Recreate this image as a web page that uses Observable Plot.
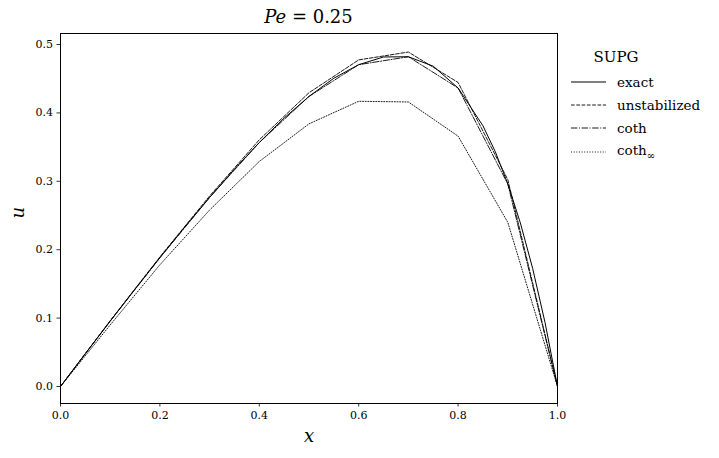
<!DOCTYPE html>
<html>
<head>
<meta charset="utf-8">
<script src="https://cdn.jsdelivr.net/npm/d3@7"></script>
<script src="https://cdn.jsdelivr.net/npm/@observablehq/plot@0.6"></script>
<style>
  html, body { margin: 0; padding: 0; background: #fff; color: #000; }
  #wrap { position: relative; width: 719px; height: 458px; font-family: "DejaVu Serif", serif; }
  #title { position: absolute; left: 0; width: 617px; top: 6px; text-align: center; font-size: 18px; font-family: "DejaVu Serif", serif; }
  #title i { font-style: italic; }
  #legend { position: absolute; left: 566px; top: 48px; font-family: "DejaVu Serif", serif; font-size: 13.5px; }
  #legend .lt { text-align: center; width: 100px; font-size: 15px; margin-bottom: 4px; }
  #legend .row { display: flex; align-items: center; height: 23.3px; }
  #legend svg { margin-left: 5px; margin-right: 11px; }
</style>
</head>
<body>
<div id="wrap">
  <div id="chart"></div>
  <div id="title"><i>Pe</i> = 0.25</div>
  <div id="legend"></div>
</div>
<script>
// Data
const xFine = [0, 0.05, 0.1, 0.15, 0.2, 0.25, 0.3, 0.35, 0.4, 0.45, 0.5, 0.55, 0.6, 0.65, 0.7, 0.75, 0.8, 0.85, 0.875, 0.9, 0.925, 0.95, 0.975, 1.0];
const uExact = [0, 0.0481, 0.0956, 0.1424, 0.1883, 0.2331, 0.2764, 0.3177, 0.3567, 0.3924, 0.4241, 0.4507, 0.4705, 0.4818, 0.4821, 0.4683, 0.4364, 0.3812, 0.343, 0.2961, 0.2398, 0.1727, 0.0933, 0];

const xNodes = [0, 0.1, 0.2, 0.3, 0.4, 0.5, 0.6, 0.7, 0.8, 0.9, 1.0];
const uUnstab = [0, 0.0962, 0.1895, 0.2785, 0.3607, 0.4295, 0.4775, 0.489, 0.4445, 0.3025, 0];
const uCoth = [0, 0.0956, 0.1883, 0.2764, 0.3567, 0.4241, 0.4705, 0.4821, 0.4364, 0.2961, 0];
const uCothInf = [0, 0.090, 0.178, 0.258, 0.329, 0.384, 0.417, 0.416, 0.366, 0.240, 0];

const xTicks = [0, 0.2, 0.4, 0.6, 0.8, 1.0];
const yTicks = [0, 0.1, 0.2, 0.3, 0.4, 0.5];

const seriesNames = ["exact", "unstabilized", "coth", "coth∞"];
const dashes = [null, "3.7,1.6", "6.4,1.6,1,1.6", "1,1.65"];

const exactData = xFine.map((x, i) => ({x, u: uExact[i]}));
const mk = arr => xNodes.map((x, i) => ({x, u: arr[i]}));

const serif = '"DejaVu Serif", serif';

const chart = Plot.plot({
  width: 719,
  height: 458,
  marginLeft: 60,
  marginRight: 162,
  marginTop: 33,
  marginBottom: 55,
  style: { fontFamily: serif, fontSize: "11px", color: "#000", background: "#fff", overflow: "visible" },
  x: { domain: [0, 1] },
  y: { domain: [-0.02485, 0.5161] },
  marks: [
    Plot.axisX({ ticks: xTicks, tickFormat: d3.format(".1f"), tickSize: 3.5, tickPadding: 4, label: null, stroke: "#000", strokeWidth: 0.8 }),
    Plot.axisY({ ticks: yTicks, tickFormat: d3.format(".1f"), tickSize: 3.5, tickPadding: 4, label: null, stroke: "#000", strokeWidth: 0.8 }),
    Plot.line(exactData, { x: "x", y: "u", stroke: "#000", strokeWidth: 1 }),
    Plot.line(mk(uUnstab), { x: "x", y: "u", stroke: "#000", strokeWidth: 0.9, strokeDasharray: dashes[1] }),
    Plot.line(mk(uCoth), { x: "x", y: "u", stroke: "#000", strokeWidth: 0.9, strokeDasharray: dashes[2] }),
    Plot.line(mk(uCothInf), { x: "x", y: "u", stroke: "#000", strokeWidth: 0.9, strokeDasharray: dashes[3] }),
    Plot.frame({ stroke: "#000", strokeWidth: 1 }),
    Plot.text(["x"], { frameAnchor: "bottom", dy: 38, text: d => d, fontSize: 18, fontStyle: "italic", fontFamily: serif }),
    Plot.text(["u"], { frameAnchor: "left", dx: -42, rotate: -90, text: d => d, fontSize: 18, fontStyle: "italic", fontFamily: serif })
  ]
});
document.getElementById("chart").appendChild(chart);

// Legend
const legend = document.getElementById("legend");
const lt = document.createElement("div");
lt.className = "lt";
lt.textContent = "SUPG";
legend.appendChild(lt);
seriesNames.forEach((name, i) => {
  const row = document.createElement("div");
  row.className = "row";
  const s = d3.create("svg").attr("width", 35).attr("height", 10);
  s.append("line").attr("x1", 0).attr("x2", 35).attr("y1", 5).attr("y2", 5)
    .attr("stroke", "#000").attr("stroke-width", i === 0 ? 1 : 0.9)
    .attr("stroke-dasharray", dashes[i]);
  row.appendChild(s.node());
  const t = document.createElement("span");
  if (name === "coth∞") {
    t.innerHTML = "coth<sub style='font-size:10px;vertical-align:-4px'>∞</sub>";
  } else {
    t.textContent = name;
  }
  row.appendChild(t);
  legend.appendChild(row);
});
</script>
</body>
</html>
